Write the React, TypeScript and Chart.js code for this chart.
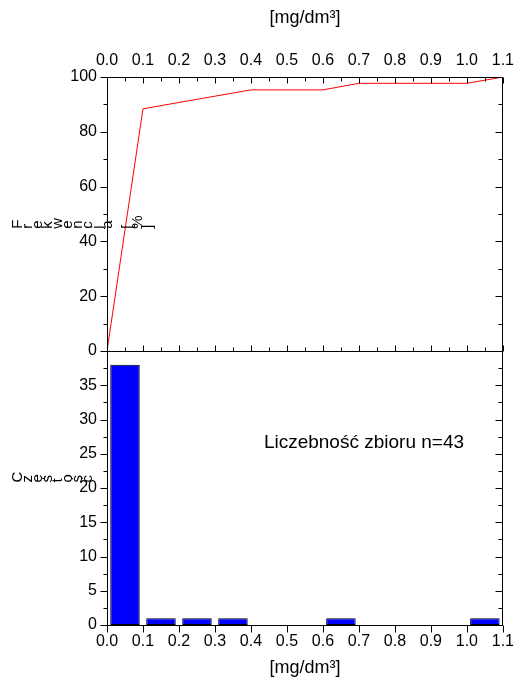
import React, { useEffect, useRef } from "react";
import { Chart, registerables } from "chart.js";

Chart.register(...registerables);

// ---- data ----
const binCenters = [0.05, 0.15, 0.25, 0.35, 0.45, 0.55, 0.65, 0.75, 0.85, 0.95, 1.05];
const counts = [38, 1, 1, 1, 0, 0, 1, 0, 0, 0, 1];
const cumX = [0, 0.1, 0.2, 0.3, 0.4, 0.5, 0.6, 0.7, 0.8, 0.9, 1.0, 1.1];
const cumPct = [0, 88.4, 90.7, 93.0, 95.3, 95.3, 95.3, 97.7, 97.7, 97.7, 97.7, 100];
const xTitle = "[mg/dm³]";
const topYTitle = "Frekwencja [%]";
const botYTitle = "Częstość";
const noteText = "Liczebność zbioru n=43";

const FONT = "'Liberation Sans', Arial, sans-serif";

const framePlugin = {
  id: "frame",
  afterDatasetsDraw(chart: any) {
    const { ctx, chartArea: ca, scales } = chart;
    const x = scales.x;
    const yT = scales.yTop;
    const yB = scales.yBot;
    const L = Math.round(ca.left) + 0.5;
    const R = Math.round(ca.right) - 0.5;
    const T = Math.round(yT.top) + 0.5;
    const M = Math.round(yT.bottom) + 0.5;
    const B = Math.round(yB.bottom) + 0.5;
    ctx.save();
    ctx.strokeStyle = "#000";
    ctx.lineWidth = 1;
    ctx.beginPath();
    ctx.rect(L, T, R - L, M - T);
    ctx.moveTo(L, M);
    ctx.lineTo(L, B);
    ctx.lineTo(R, B);
    ctx.lineTo(R, M);
    for (let i = 0; i <= 22; i++) {
      const px = Math.round(x.getPixelForValue(i * 0.05)) + 0.5;
      const major = i % 2 === 0;
      const len = major ? 6 : 4;
      ctx.moveTo(px, T);
      ctx.lineTo(px, T + len);
      ctx.moveTo(px, M);
      ctx.lineTo(px, M - len);
      if (major) {
        ctx.moveTo(px, B);
        ctx.lineTo(px, B + 7);
      }
    }
    for (let v = 0; v <= 100; v += 10) {
      const py = Math.round(yT.getPixelForValue(v)) + 0.5;
      const len = v % 20 === 0 ? 7 : 4;
      ctx.moveTo(L, py);
      ctx.lineTo(L - len, py);
      ctx.moveTo(R, py);
      ctx.lineTo(R - len, py);
    }
    for (let k = 0; k <= 15; k++) {
      const py = Math.round(yB.getPixelForValue(k * 2.5)) + 0.5;
      const len = k % 2 === 0 ? 7 : 4;
      ctx.moveTo(L, py);
      ctx.lineTo(L - len, py);
      ctx.moveTo(R, py);
      ctx.lineTo(R - len, py);
    }
    ctx.stroke();

    // rotated-character y titles (each glyph turned, laid left to right)
    const drawRot = (text: string, firstBaseX: number, bottomY: number) => {
      ctx.font = `15px ${FONT}`;
      ctx.fillStyle = "#000";
      ctx.textAlign = "left";
      ctx.textBaseline = "alphabetic";
      let bx = firstBaseX;
      for (const ch of Array.from(text)) {
        ctx.save();
        ctx.translate(bx, bottomY);
        ctx.rotate(-Math.PI / 2);
        ctx.fillText(ch, 0, 0);
        ctx.restore();
        bx += 10;
      }
    };
    drawRot(topYTitle, 22, yT.getPixelForValue(44.6));
    drawRot(botYTitle, 22, yB.getPixelForValue(20.8));

    // note
    ctx.font = `19px ${FONT}`;
    ctx.fillStyle = "#000";
    ctx.textAlign = "center";
    ctx.textBaseline = "middle";
    ctx.fillText(noteText, x.getPixelForValue(0.714), yB.getPixelForValue(26.6));
    ctx.restore();
  },
};

export default function App() {
  const ref = useRef<HTMLCanvasElement>(null);
  useEffect(() => {
    if (!ref.current) return;
    const xTickCb = (v: any) => Number(v).toFixed(1);
    const chart = new Chart(ref.current, {
      type: "bar",
      data: {
        datasets: [
          {
            type: "bar",
            data: binCenters
              .map((c, i) => ({ x: c, y: counts[i] }))
              .filter((d) => d.y > 0),
            xAxisID: "x",
            yAxisID: "yBot",
            backgroundColor: "#0000ff",
            borderColor: "#000",
            borderWidth: 1,
            borderSkipped: false,
            barPercentage: 0.82,
            categoryPercentage: 1,
          } as any,
          {
            type: "line",
            data: cumX.map((c, i) => ({ x: c, y: cumPct[i] })),
            xAxisID: "x",
            yAxisID: "yTop",
            borderColor: "#ff0000",
            borderWidth: 1,
            pointRadius: 0,
            tension: 0,
            fill: false,
          } as any,
        ],
      },
      options: {
        responsive: false,
        animation: false,
        layout: { padding: { left: 0, right: 13, top: 0, bottom: 0 } },
        plugins: { legend: { display: false }, tooltip: { enabled: false } },
        scales: {
          x: {
            type: "linear",
            position: "bottom",
            min: 0,
            max: 1.1,
            offset: false,
            grid: { display: false, drawTicks: false, offset: false },
            border: { display: false },
            ticks: {
              stepSize: 0.1,
              callback: xTickCb,
              autoSkip: false,
              maxRotation: 0,
              padding: 7,
              color: "#000",
              font: { size: 16, family: FONT },
            },
            title: {
              display: true,
              text: xTitle,
              color: "#000",
              font: { size: 18, family: FONT },
              padding: { top: 0, bottom: 5 },
            },
            afterFit: (s: any) => {
              s.height = 59;
            },
          },
          xTop: {
            type: "linear",
            position: "top",
            min: 0,
            max: 1.1,
            offset: false,
            grid: { display: false, drawTicks: false, offset: false },
            border: { display: false },
            ticks: {
              stepSize: 0.1,
              callback: xTickCb,
              autoSkip: false,
              maxRotation: 0,
              padding: 7,
              color: "#000",
              font: { size: 16, family: FONT },
            },
            title: {
              display: true,
              text: xTitle,
              color: "#000",
              font: { size: 18, family: FONT },
              padding: { top: 7, bottom: 0 },
            },
            afterFit: (s: any) => {
              s.height = 77;
            },
          },
          yBot: {
            type: "linear",
            position: "left",
            stack: "panels",
            stackWeight: 1,
            min: 0,
            max: 40,
            grid: { display: false, drawTicks: false },
            border: { display: false },
            ticks: {
              stepSize: 5,
              autoSkip: false,
              padding: 10,
              color: "#000",
              font: { size: 16, family: FONT },
              callback: (v: any) => (Number(v) === 40 ? "" : String(v)),
            },
            afterFit: (s: any) => {
              s.width = 107;
            },
          },
          yTop: {
            type: "linear",
            position: "left",
            stack: "panels",
            stackWeight: 1,
            min: 0,
            max: 100,
            grid: { display: false, drawTicks: false },
            border: { display: false },
            ticks: {
              stepSize: 20,
              autoSkip: false,
              padding: 10,
              color: "#000",
              font: { size: 16, family: FONT },
            },
            afterFit: (s: any) => {
              s.width = 107;
            },
          },
        },
      } as any,
      plugins: [framePlugin],
    });
    return () => chart.destroy();
  }, []);
  return (
    <div style={{ position: "absolute", left: 0, top: 0, width: 521, height: 684, background: "#fff" }}>
      <canvas ref={ref} width={521} height={684} />
    </div>
  );
}
